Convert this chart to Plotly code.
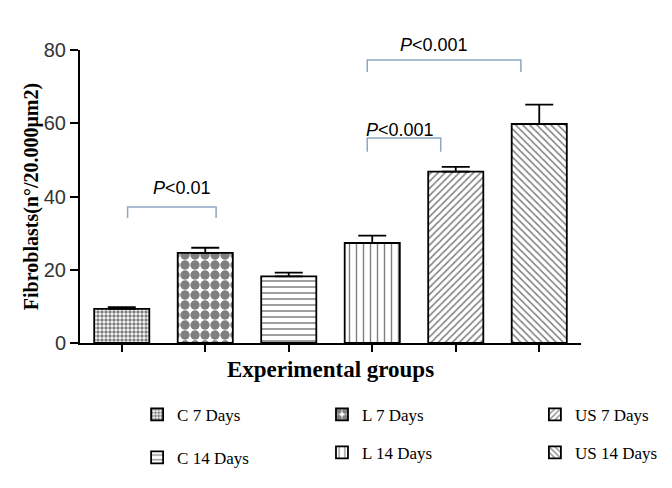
import plotly.graph_objects as go

groups = ["C 7 Days", "L 7 Days", "C 14 Days", "L 14 Days", "US 7 Days", "US 14 Days"]
means = [9.3, 24.6, 18.2, 27.3, 46.8, 59.8]
sem = [0.5, 1.4, 1.0, 2.0, 1.3, 5.3]
legend_ids = ["legend", "legend2", "legend4", "legend5", "legend3", "legend6"]

patterns = [
    dict(shape=".", size=4, solidity=0.6),
    dict(shape=".", size=10, solidity=0.7),
    dict(shape="-", size=6, solidity=0.25),
    dict(shape="|", size=7, solidity=0.2),
    dict(shape="/", size=5, solidity=0.3),
    dict(shape="\\", size=5, solidity=0.3),
]

# significance brackets: (x_left, x_right, y_top, y_bottom, label, label_x, label_y)
brackets = [
    (0.07, 1.13, 37.1, 34.1, "<i>P</i><0.01", 0.72, 42.3),
    (2.94, 3.82, 56.0, 52.2, "<i>P</i><0.001", 3.33, 61.4),
    (2.94, 4.78, 77.3, 74.0, "<i>P</i><0.001", 3.74, 84.6),
]

fig = go.Figure()
for i, g in enumerate(groups):
    p = patterns[i]
    fig.add_trace(go.Bar(
        x=[i], y=[means[i]], name=g, width=0.66, legend=legend_ids[i],
        marker=dict(color="white", line=dict(color="black", width=1.8),
                    pattern=dict(shape=p["shape"], size=p["size"], solidity=p["solidity"],
                                 fgcolor="black", bgcolor="white", fillmode="overlay")),
        error_y=dict(type="data", symmetric=False, array=[sem[i]], arrayminus=[0],
                     color="black", thickness=1.8, width=14),
    ))

for x0, x1, yt, yb, lab, lx, ly in brackets:
    fig.add_shape(type="path", xref="x", yref="y",
                  path=f"M {x0},{yb} L {x0},{yt} L {x1},{yt} L {x1},{yb}",
                  line=dict(color="#8FA6C4", width=1.5))
    fig.add_annotation(x=lx, y=ly / 80.0, xref="x", yref="paper", text=lab, showarrow=False,
                       font=dict(family="Liberation Sans", size=18, color="black"))

# legend positions (paper coords): one legend per entry, 3 columns x 2 rows
leg_font = dict(family="Liberation Serif", size=17, color="black")
leg_pos = {
    "legend": (0.114, -0.245),
    "legend2": (0.483, -0.245),
    "legend3": (0.908, -0.245),
    "legend4": (0.114, -0.392),
    "legend5": (0.483, -0.375),
    "legend6": (0.908, -0.375),
}
legends = {k: dict(x=v[0], y=v[1], xanchor="left", yanchor="middle", font=leg_font,
                   bgcolor="rgba(0,0,0,0)")
           for k, v in leg_pos.items()}

fig.update_layout(
    width=672, height=488,
    margin=dict(l=72, r=99, t=42, b=153, autoexpand=False),
    paper_bgcolor="white", plot_bgcolor="white",
    barmode="overlay",
    showlegend=True,
    **legends,
    xaxis=dict(range=[-0.5, 5.5], tickvals=list(range(6)), ticktext=[""] * 6,
               showline=True, linecolor="black", linewidth=2, ticks="outside",
               ticklen=7, tickwidth=2, tickcolor="black", showgrid=False, zeroline=False,
               title=dict(text="<b>Experimental groups</b>", standoff=7,
                          font=dict(family="Liberation Serif", size=23, color="black"))),
    yaxis=dict(range=[0, 80], tickvals=[0, 20, 40, 60, 80], showline=True,
               linecolor="black", linewidth=2, ticks="outside", ticklen=8, tickwidth=2,
               tickcolor="black", showgrid=False, zeroline=False,
               tickfont=dict(family="Liberation Sans", size=20, color="#333333"),
               title=dict(text="<b>Fibroblasts(n°/20.000μm2)</b>", standoff=0,
                          font=dict(family="Liberation Serif", size=20, color="black"))),
)

fig.write_html("out.html")
